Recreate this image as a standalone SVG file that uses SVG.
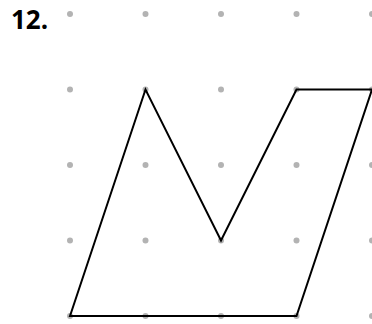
<svg xmlns="http://www.w3.org/2000/svg" width="372" height="324" viewBox="0 0 372 324">
<style>
.dot{fill:#b3b3b3}
.lbl{font-family:"Open Sans","Liberation Sans",sans-serif;font-weight:bold;font-size:26px;fill:#000}
.shape{fill:none;stroke:#000;stroke-width:2;stroke-linejoin:miter}
</style>
<rect width="372" height="324" fill="#fff"/>
<g id="label"><text class="lbl" x="11" y="29">12.</text></g>
<g id="grid">
<circle class="dot" cx="70" cy="14" r="3"/><circle class="dot" cx="145.5" cy="14" r="3"/><circle class="dot" cx="221" cy="14" r="3"/><circle class="dot" cx="296.5" cy="14" r="3"/><circle class="dot" cx="372" cy="14" r="3"/>
<circle class="dot" cx="70" cy="89.5" r="3"/><circle class="dot" cx="145.5" cy="89.5" r="3"/><circle class="dot" cx="221" cy="89.5" r="3"/><circle class="dot" cx="296.5" cy="89.5" r="3"/><circle class="dot" cx="372" cy="89.5" r="3"/>
<circle class="dot" cx="70" cy="165" r="3"/><circle class="dot" cx="145.5" cy="165" r="3"/><circle class="dot" cx="221" cy="165" r="3"/><circle class="dot" cx="296.5" cy="165" r="3"/><circle class="dot" cx="372" cy="165" r="3"/>
<circle class="dot" cx="70" cy="240.5" r="3"/><circle class="dot" cx="145.5" cy="240.5" r="3"/><circle class="dot" cx="221" cy="240.5" r="3"/><circle class="dot" cx="296.5" cy="240.5" r="3"/><circle class="dot" cx="372" cy="240.5" r="3"/>
<circle class="dot" cx="70" cy="316" r="3"/><circle class="dot" cx="145.5" cy="316" r="3"/><circle class="dot" cx="221" cy="316" r="3"/><circle class="dot" cx="296.5" cy="316" r="3"/><circle class="dot" cx="372" cy="316" r="3"/>
</g>
<g id="figure"><polygon class="shape" points="70,316 145.5,89.5 221,240.5 296.5,89.5 372,89.5 296.5,316"/></g>
</svg>
